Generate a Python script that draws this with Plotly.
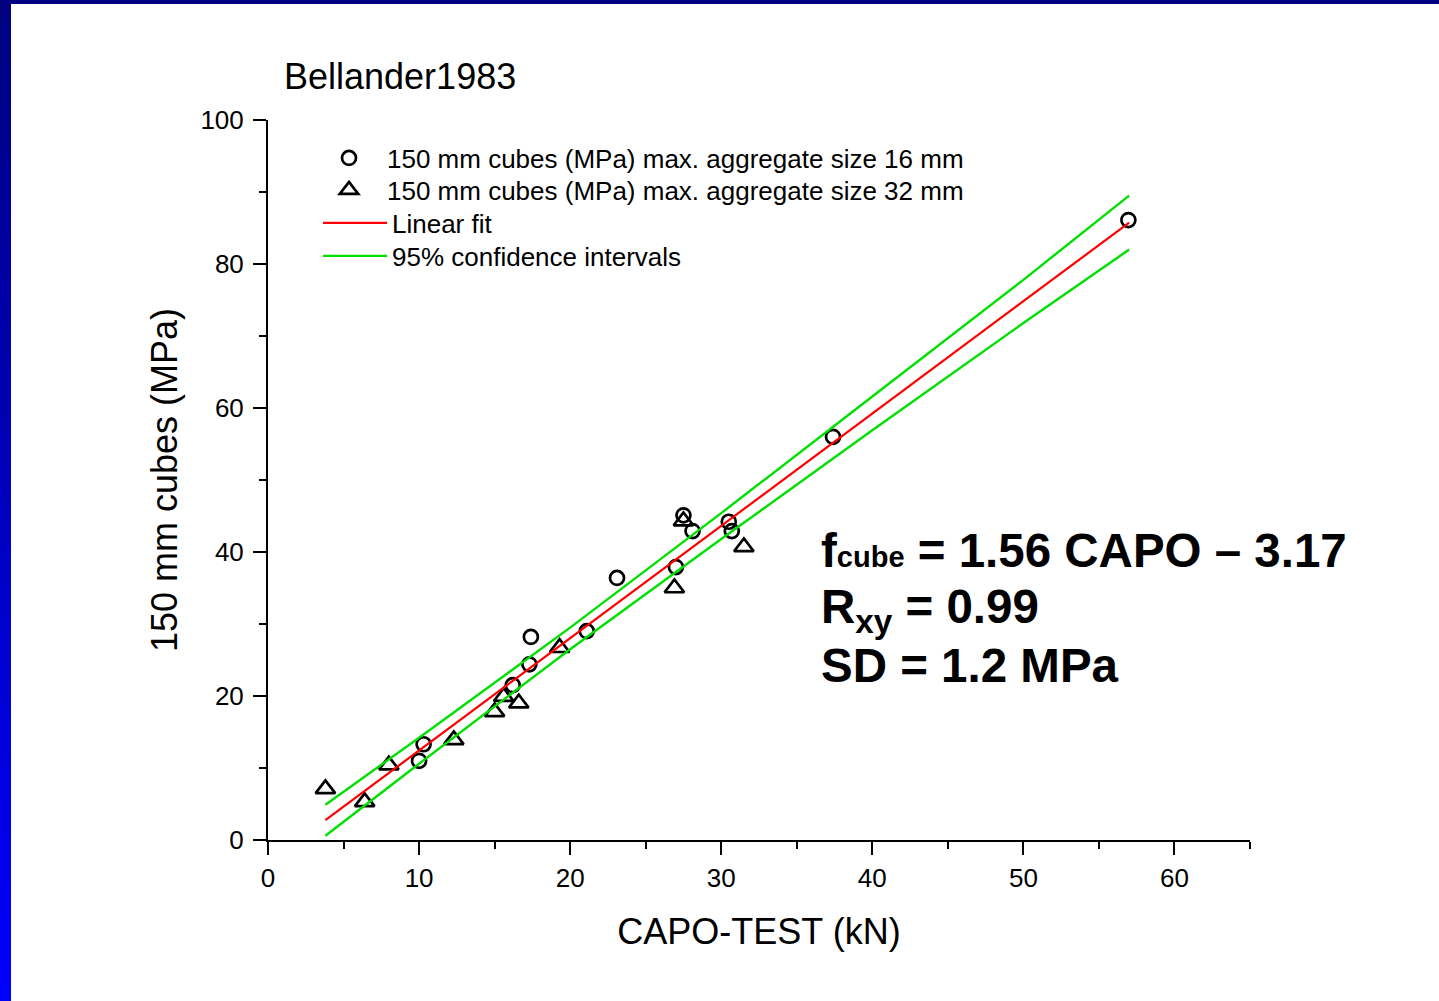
import plotly.graph_objects as go

# ---------------- data ----------------
capo_16 = [10.0, 10.3, 16.2, 17.3, 17.4, 21.1, 23.1, 27.0, 27.5, 28.1, 30.5, 30.7, 37.4, 56.95]
cube_16 = [11.0, 13.3, 21.5, 24.4, 28.2, 29.0, 36.4, 37.9, 45.1, 42.9, 44.2, 42.9, 56.0, 86.1]

capo_32 = [3.8, 6.4, 8.0, 12.3, 15.0, 15.6, 16.6, 19.3, 26.9, 27.5, 31.5]
cube_32 = [7.1, 5.3, 10.4, 13.9, 17.8, 19.9, 19.0, 26.7, 35.0, 44.3, 40.7]

fit_x = [3.8, 57.0]
fit_y = [2.76, 85.75]

ci_x = [3.8, 10, 20, 30, 40, 50, 57]
ci_upper = [4.9, 14.2, 29.5, 45.4, 61.6, 77.8, 89.5]
ci_lower = [0.6, 10.6, 26.5, 41.8, 56.9, 71.8, 82.0]

name_16 = "150 mm cubes (MPa) max. aggregate size 16 mm"
name_32 = "150 mm cubes (MPa) max. aggregate size 32 mm"
name_fit = "Linear fit"
name_ci = "95% confidence intervals"

title_text = "Bellander1983"
x_title = "CAPO-TEST (kN)"
y_title = "150 mm cubes (MPa)"
eq_lines = [
    "f<span style='font-size:29px'>cube</span> = 1.56 CAPO \u2013 3.17",
    "R<sub>xy</sub> = 0.99",
    "SD = 1.2 MPa",
]

# ---------------- layout geometry ----------------
W, H = 1439, 1001
ML, MR, MT, MB = 268, 189, 120, 161
PW = W - ML - MR
PH = H - MT - MB


def pxx(px):
    return (px - ML) / PW


def pxy(py):
    return (H - MB - py) / PH


FONT = "Arial, 'Liberation Sans', sans-serif"
GREEN = "#00e000"

fig = go.Figure()

fig.add_trace(go.Scatter(
    x=capo_16, y=cube_16, mode="markers", name=name_16, legend="legend",
    marker=dict(symbol="circle-open", size=14, color="black", line=dict(width=2.7, color="black")),
))
fig.add_trace(go.Scatter(
    x=capo_32, y=cube_32, mode="markers", name=name_32, legend="legend2",
    marker=dict(symbol="triangle-up-open", size=17, color="black", line=dict(width=2.7, color="black")),
))
fig.add_trace(go.Scatter(
    x=fit_x, y=fit_y, mode="lines", name=name_fit, legend="legend3",
    line=dict(color="#ff0000", width=2.2),
))
fig.add_trace(go.Scatter(
    x=ci_x, y=ci_upper, mode="lines", name=name_ci, legend="legend4",
    line=dict(color=GREEN, width=2.4),
))
fig.add_trace(go.Scatter(
    x=ci_x, y=ci_lower, mode="lines", name=name_ci, showlegend=False,
    line=dict(color=GREEN, width=2.4),
))

# ---------------- frame decoration (blue slide border) ----------------
shapes = []
shapes.append(dict(type="rect", xref="paper", yref="paper",
                   x0=pxx(0), x1=pxx(W), y0=pxy(0), y1=pxy(4),
                   fillcolor="rgb(0,0,128)", line=dict(width=0), layer="above"))
nb = 60
for i in range(nb):
    y0p = H * i / nb
    y1p = H * (i + 1) / nb + 1
    b = int(128 + (255 - 128) * (i + 0.5) / nb)
    shapes.append(dict(type="rect", xref="paper", yref="paper",
                       x0=pxx(0), x1=pxx(11), y0=pxy(y0p), y1=pxy(y1p),
                       fillcolor=f"rgb(0,0,{b})", line=dict(width=0), layer="above"))

annotations = [
    dict(text=title_text, xref="paper", yref="paper", x=pxx(282), y=pxy(76),
         xanchor="left", yanchor="middle", showarrow=False,
         font=dict(family=FONT, size=36, color="black")),
]
eq_y = [550, 610, 665]
for txt, yy in zip(eq_lines, eq_y):
    annotations.append(dict(text=txt, xref="paper", yref="paper", x=pxx(819), y=pxy(yy),
                            xanchor="left", yanchor="middle", showarrow=False,
                            font=dict(family=FONT, size=47.5, color="black", weight="bold")))

axis_common = dict(
    showline=True, linecolor="black", linewidth=2,
    ticks="outside", ticklen=13, tickwidth=2, tickcolor="black",
    showgrid=False, zeroline=False, mirror=False,
    tickfont=dict(family=FONT, size=26, color="black"),
)

LEGFONT = dict(family=FONT, size=26, color="black")


def leg(left_px, center_py, itemwidth):
    return dict(x=pxx(left_px), y=pxy(center_py), xanchor="left", yanchor="middle",
                bgcolor="rgba(0,0,0,0)", font=LEGFONT, itemwidth=itemwidth,
                borderwidth=0)


fig.update_layout(
    width=W, height=H,
    margin=dict(l=ML, r=MR, t=MT, b=MB, autoexpand=False),
    paper_bgcolor="white", plot_bgcolor="white",
    showlegend=True,
    legend=leg(311, 158, 66),
    legend2=leg(311, 190, 66),
    legend3=leg(318, 223, 64),
    legend4=leg(318, 256, 64),
    xaxis=dict(range=[0, 65], dtick=10, tick0=0,
               minor=dict(ticks="outside", ticklen=7, tickwidth=2, dtick=5, tickcolor="black"),
               title=dict(text=x_title, font=dict(family=FONT, size=36, color="black"), standoff=27),
               ticklabelstandoff=1,
               **axis_common),
    yaxis=dict(range=[0, 100], dtick=20, tick0=0,
               minor=dict(ticks="outside", ticklen=7, tickwidth=2, dtick=10, tickcolor="black"),
               title=dict(text=y_title, font=dict(family=FONT, size=36, color="black"), standoff=12),
               ticklabelstandoff=4,
               **axis_common),
    shapes=shapes,
    annotations=annotations,
)

fig.write_html("out.html",
               config={"displayModeBar": False},
               post_script="document.body.style.margin='0';document.body.style.padding='0';")
